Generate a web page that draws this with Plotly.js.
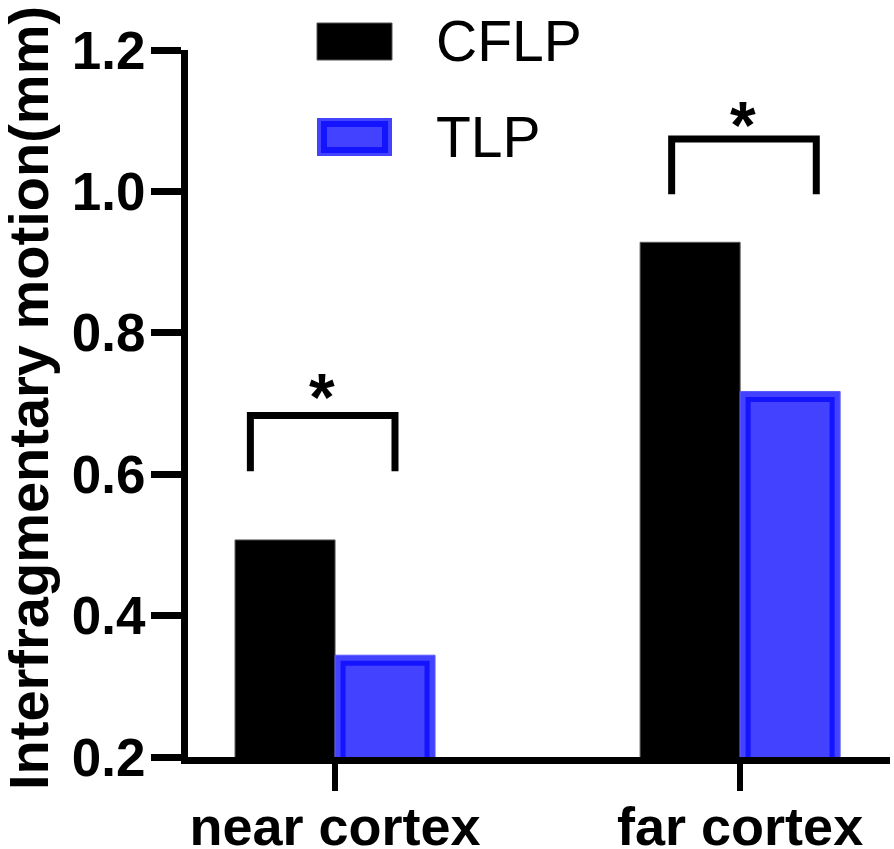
<!DOCTYPE html>
<html>
<head>
<meta charset="utf-8">
<script src="https://cdn.plot.ly/plotly-3.0.1.min.js"></script>
<style>
html,body{margin:0;padding:0;background:#fff;}
#chart{width:894px;height:849px;}
</style>
</head>
<body>
<div id="chart"></div>
<script>
// ---- data ----
const categories = ["near cortex", "far cortex"];
const categoryPos = [0, 1];
const cflpValues = [0.507, 0.928];
const tlpValues = [0.344, 0.717];
const seriesNames = ["CFLP", "TLP"];
const yTitle = "Interfragmentary motion(mm)";
const yTickVals = [0.2, 0.4, 0.6, 0.8, 1.0, 1.2];
const yTickText = ["0.2", "0.4", "0.6", "0.8", "1.0", "1.2"];
// significance brackets (one per category)
const bracketLeft = [-0.209, 0.831];
const bracketRight = [0.148, 1.188];
const bracketTop = [0.683, 1.074];
const bracketBottom = [0.604, 0.996];
const starX = [-0.033, 1.007];
const starY = [0.726, 1.111];
const starText = ["*", "*"];

// ---- layout constants ----
const W = 894, H = 849;
const M = {l: 188, r: 4, t: 50, b: 92};
const plotW = W - M.l - M.r, plotH = H - M.t - M.b;
const yRange = [0.2, 1.2];
const xRange = [-0.363, 1.370];
const unitPx = plotW / (xRange[1] - xRange[0]);
const barW = 100 / unitPx;
const insetX = 8 / unitPx;
const insetY = 8 / plotH * (yRange[1] - yRange[0]);
const FONT = "Liberation Sans, Arial, Helvetica, sans-serif";
const px2x = px => (px - M.l) / plotW;
const px2y = py => (M.t + plotH - py) / plotH;

const traces = [
  {
    type: "bar", name: seriesNames[0], x: categoryPos, y: cflpValues,
    offset: -barW, width: barW,
    marker: {color: "#000000", line: {color: "#555555", width: 1}},
    hoverinfo: "skip", showlegend: false
  },
  {
    type: "bar", name: seriesNames[1], x: categoryPos, y: tlpValues,
    offset: 0, width: barW,
    marker: {color: "#4242ff", line: {color: "#5a5aff", width: 1}},
    hoverinfo: "skip", showlegend: false
  },
  {
    type: "bar", name: seriesNames[1] + " border", x: categoryPos,
    y: tlpValues.map(v => v - insetY),
    offset: insetX, width: barW - 2 * insetX,
    marker: {color: "rgba(0,0,0,0)", line: {color: "#1414ff", width: 5}},
    hoverinfo: "skip", showlegend: false
  }
];

const shapes = [];
for (let i = 0; i < categories.length; i++) {
  shapes.push({
    type: "path", xref: "x", yref: "y",
    path: `M ${bracketLeft[i]},${bracketBottom[i]} L ${bracketLeft[i]},${bracketTop[i]} L ${bracketRight[i]},${bracketTop[i]} L ${bracketRight[i]},${bracketBottom[i]}`,
    line: {color: "#000", width: 7}
  });
}
// legend swatches
shapes.push({type: "rect", xref: "paper", yref: "paper",
  x0: px2x(317), x1: px2x(392), y0: px2y(60), y1: px2y(23),
  fillcolor: "#000", line: {color: "#555", width: 1}, layer: "above"});
shapes.push({type: "rect", xref: "paper", yref: "paper",
  x0: px2x(317), x1: px2x(392), y0: px2y(156), y1: px2y(118),
  fillcolor: "#4242ff", line: {width: 0}, layer: "above"});
shapes.push({type: "rect", xref: "paper", yref: "paper",
  x0: px2x(324), x1: px2x(385), y0: px2y(150), y1: px2y(124),
  fillcolor: "rgba(0,0,0,0)", line: {color: "#1414ff", width: 6}, layer: "above"});

const annotations = [];
for (let i = 0; i < starX.length; i++) {
  annotations.push({
    x: starX[i], y: starY[i], xref: "x", yref: "y", text: starText[i],
    showarrow: false, xanchor: "center", yanchor: "middle", yshift: -12,
    font: {family: FONT, size: 66, color: "#000", weight: "bold"}
  });
}
annotations.push({x: px2x(434), y: px2y(41), xref: "paper", yref: "paper",
  text: seriesNames[0], showarrow: false, xanchor: "left", yanchor: "middle",
  font: {family: FONT, size: 57, color: "#000"}});
annotations.push({x: px2x(434), y: px2y(137), xref: "paper", yref: "paper",
  text: seriesNames[1], showarrow: false, xanchor: "left", yanchor: "middle",
  font: {family: FONT, size: 57, color: "#000"}});
// y-axis title
annotations.push({x: px2x(28), y: px2y(398), xref: "paper", yref: "paper",
  text: yTitle, showarrow: false, textangle: -90,
  xanchor: "center", yanchor: "middle",
  font: {family: FONT, size: 56, color: "#000", weight: "bold"}});

const layout = {
  width: W, height: H,
  margin: M,
  paper_bgcolor: "#fff", plot_bgcolor: "#fff",
  barmode: "overlay",
  showlegend: false,
  font: {family: FONT, color: "#000"},
  xaxis: {
    type: "linear", range: xRange, tickvals: categoryPos, ticktext: categories,
    showgrid: false, zeroline: false,
    showline: true, linecolor: "#000", linewidth: 7,
    ticks: "outside", ticklen: 27, tickwidth: 6, tickcolor: "#000",
    ticklabelstandoff: -11,
    tickfont: {family: FONT, size: 54, color: "#000", weight: "bold"},
    fixedrange: true
  },
  yaxis: {
    range: yRange, tickvals: yTickVals, ticktext: yTickText,
    showgrid: false, zeroline: false,
    showline: true, linecolor: "#000", linewidth: 7,
    ticks: "outside", ticklen: 30, tickwidth: 7, tickcolor: "#000",
    ticklabelstandoff: -5,
    tickfont: {family: FONT, size: 53, color: "#000", weight: "bold"},
    fixedrange: true
  },
  shapes: shapes,
  annotations: annotations
};

Plotly.newPlot("chart", traces, layout, {staticPlot: true, displayModeBar: false});
</script>
</body>
</html>
